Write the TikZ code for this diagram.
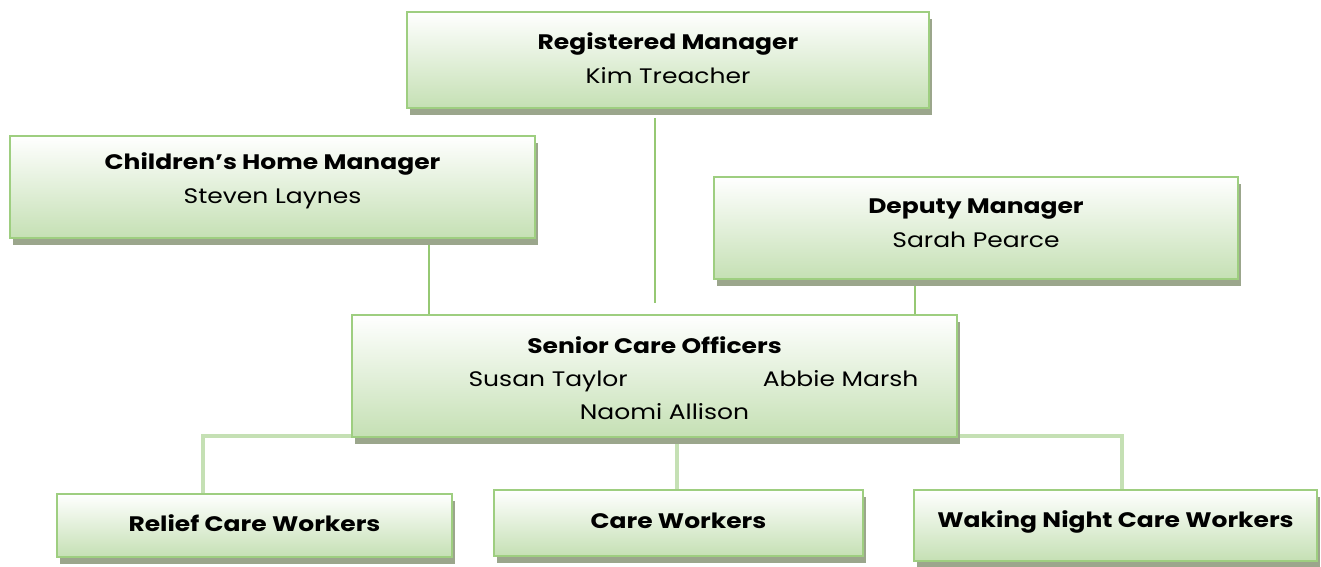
\documentclass[tikz,border=0pt]{standalone}
\usepackage{fontspec}
\setmainfont{Poppins}[FakeStretch=1.19]
\usetikzlibrary{shadows}
\definecolor{boxline}{RGB}{158,206,128}
\definecolor{boxbot}{RGB}{197,224,180}
\definecolor{shade}{RGB}{155,166,140}
\definecolor{linkgreen}{RGB}{150,200,115}
\definecolor{sublink}{RGB}{197,224,180}
\pgfdeclarelayer{bg}
\pgfsetlayers{bg,main}
\tikzset{
  post/.style={draw=boxline, line width=2pt, top color=white, bottom color=boxbot,
    inner sep=0pt, drop shadow={shadow xshift=3pt, shadow yshift=-7pt, fill=shade, opacity=1}},
  who/.style={anchor=north, align=center, inner sep=0pt, font=\fontsize{21}{34}\selectfont},
  link/.style={draw=linkgreen, line width=2pt},
  sub/.style={draw=sublink, line width=3.5pt}
}
\begin{document}
\begin{tikzpicture}[x=1pt,y=-1pt]
\useasboundingbox (0,0) rectangle (1321,566);
% managers
\node[post, minimum width=522pt, minimum height=96pt] (reg) at (668,60) {};
\node[who] (regtxt) at ([yshift=-21pt]reg.north) {\textbf{Registered Manager}\\Kim Treacher};
\node[post, minimum width=525pt, minimum height=102pt] (chm) at (272.5,187) {};
\node[who] (chmtxt) at ([yshift=-17pt]chm.north) {\textbf{Children’s Home Manager}\\Steven Laynes};
\node[post, minimum width=524pt, minimum height=102pt] (dep) at (976,228) {};
\node[who] (deptxt) at ([yshift=-23pt]dep.north) {\textbf{Deputy Manager}\\Sarah Pearce};
% senior care officers
\node[post, minimum width=605pt, minimum height=122pt] (sco) at (654.5,376) {};
\node[who, font=\fontsize{21}{33}\selectfont] (scotxt) at ([yshift=-22pt]sco.north)
  {\textbf{Senior Care Officers}\\\hspace*{78pt}Susan Taylor\hspace{135pt}Abbie Marsh\\\hspace*{20pt}Naomi Allison};
% workers
\node[post, minimum width=395pt, minimum height=63pt] (rel) at (254.5,525.5) {};
\node[who, anchor=center] (reltxt) at ([yshift=2pt]rel.center) {\textbf{Relief Care Workers}};
\node[post, minimum width=369pt, minimum height=66pt] (cw) at (678.5,523) {};
\node[who, anchor=center] (cwtxt) at ([yshift=2pt]cw.center) {\textbf{Care Workers}};
\node[post, minimum width=403pt, minimum height=71pt] (wnc) at (1115.5,525.5) {};
\node[who, anchor=center] (wnctxt) at ([yshift=4pt]wnc.center) {\textbf{Waking Night Care Workers}};
% connectors
\coordinate (chmx) at (429,0);
\coordinate (depx) at (915,0);
\coordinate (relx) at (203,0);
\coordinate (cwx) at (677,0);
\coordinate (wncx) at (1122,0);
\begin{pgfonlayer}{bg}
\draw[link] ([yshift=-9pt]reg.south -| sco.north) -- ([yshift=11pt]sco.north);
\draw[link] (chm.south -| chmx) -- (sco.north -| chmx);
\draw[link] (dep.south -| depx) -- (sco.north -| depx);
\draw[sub] (rel.north -| relx) |- ([yshift=2pt]sco.south -| wncx) -- (wnc.north -| wncx);
\draw[sub] (sco.south -| cwx) -- (cw.north -| cwx);
\end{pgfonlayer}
\end{tikzpicture}
\end{document}
